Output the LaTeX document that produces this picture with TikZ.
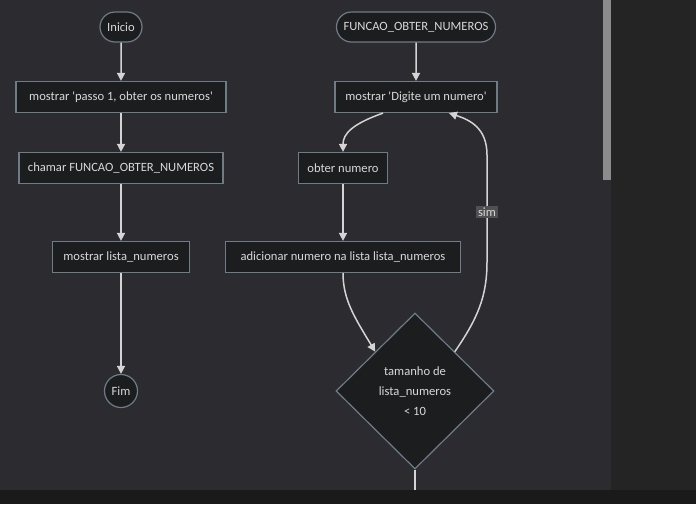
\documentclass[tikz,border=0pt]{standalone}
\usepackage{fontspec}
\setmainfont{Carlito}
\usetikzlibrary{shapes.geometric,shapes.misc,arrows.meta}

\definecolor{panel}{RGB}{44,43,47}
\definecolor{sidepanel}{RGB}{36,36,37}
\definecolor{bottomstrip}{RGB}{26,26,27}
\definecolor{scrollgray}{RGB}{140,140,140}
\definecolor{nodefill}{RGB}{28,29,31}
\definecolor{nodeline}{RGB}{110,124,136}
\definecolor{flowline}{RGB}{212,212,212}
\definecolor{flowtext}{RGB}{216,216,216}
\definecolor{labelfill}{RGB}{80,80,82}

\newcommand{\sq}{\textquotesingle}

\tikzset{
  every step/.style={draw=nodeline, fill=nodefill, text=flowtext, line width=1.2pt,
    minimum height=31pt, inner xsep=4pt},
  terminal/.style={every step/.try, rounded rectangle, minimum height=30pt},
  decision/.style={every step/.try, diamond, minimum width=158pt, minimum height=156pt,
    align=center, inner sep=0pt},
  flow/.style={draw=flowline, line width=1.5pt}
}

\begin{document}
\begin{tikzpicture}[x=1pt, y=-1pt, >={Triangle[length=8pt, width=8pt]},
  font=\fontsize{12.6}{15}\selectfont]

\useasboundingbox (0,0) rectangle (696,504);
\fill [panel] (0,0) rectangle (612,504);
\fill [sidepanel] (611,0) rectangle (696,504);
\fill [scrollgray] (603,0) rectangle (611,180);

% main flow
\node [terminal, minimum width=50pt] (inicio) at (121,27) {Inicio};
\foreach \n/\t/\y/\w in {passo/{mostrar \sq passo 1, obter os numeros\sq}/97/210,
                         chamar/{chamar FUNCAO\_OBTER\_NUMEROS}/168/204,
                         mostrar/{mostrar lista\_numeros}/257/137}
  \node [every step, minimum width=\w pt] (\n) at (121,\y) {\t};
\node [terminal, minimum width=41pt, minimum height=33pt] (fim) at (121,391) {Fim};

\draw [flow, ->] (inicio) -- (passo);
\draw [flow, ->] (passo) -- (chamar);
\draw [flow, ->] (chamar) -- (mostrar);
\draw [flow, ->] (mostrar) -- (fim);

% funcao obter numeros
\node [terminal, minimum width=167pt] (funcao) at (416,27) {FUNCAO\_OBTER\_NUMEROS};
\node [every step, minimum width=162pt] (digite) at (416,97) {mostrar \sq Digite um numero\sq};
\node [every step, minimum width=89pt] (obter) at (343,168) {obter numero};
\node [every step, minimum width=235pt] (adicionar) at (343,257)
  {adicionar numero na lista lista\_numeros};
\node [decision] (tamanho) at (415,391) {tamanho de\\[5pt] lista\_numeros\\[5pt] < 10};
\coordinate (saida) at (415,492);

\draw [flow, ->] (funcao) -- (digite);
\draw [flow, ->] ([xshift=-33pt]digite.south)
  .. controls (352,124) and (343,134) .. (obter.north);
\draw [flow, ->] (obter) -- (adicionar);
\draw [flow, ->] (adicionar.south)
  .. controls (343,300) and (355,318) .. (tamanho.north west);
\draw [flow, ->] (tamanho.north east)
  .. controls (478,318) and (487,296) .. (487,262) -- (487,155)
  .. controls (487,128) and (470,120) .. ([xshift=33pt]digite.south);
\node [fill=labelfill, text=flowtext, inner sep=2pt] (sim) at (487,212) {sim};
\draw [flow] (tamanho) -- (saida);

\fill [bottomstrip] (0,490) rectangle (696,504);

\end{tikzpicture}
\end{document}
